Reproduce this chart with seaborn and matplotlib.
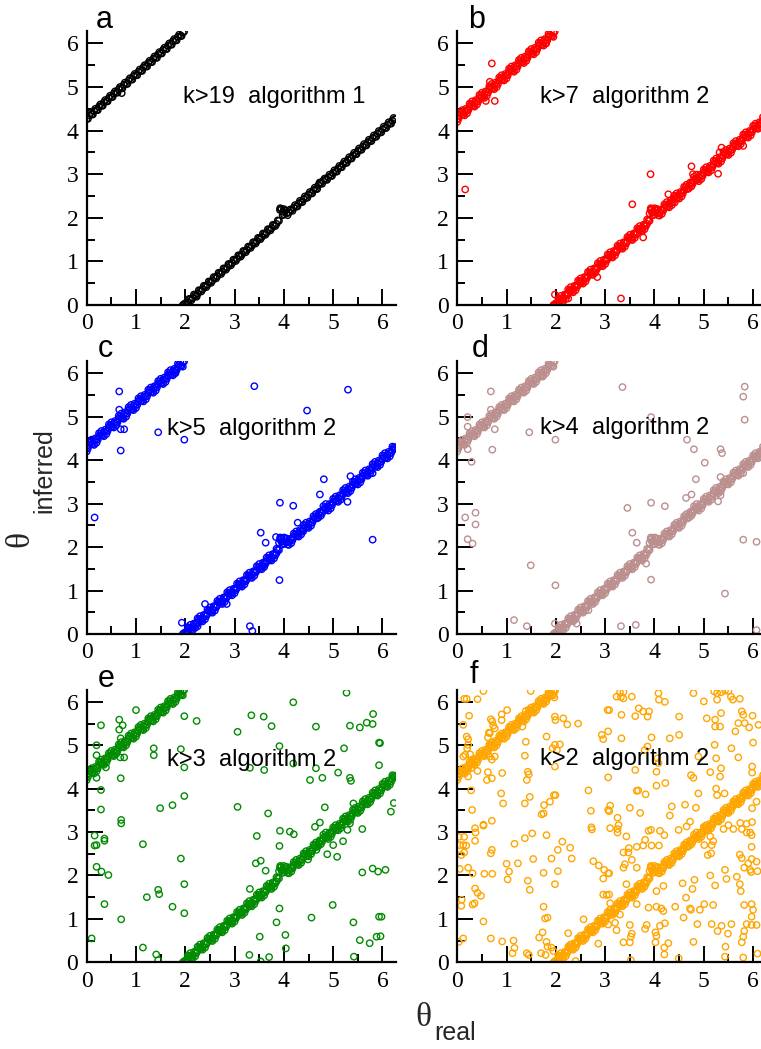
import numpy as np
import pandas as pd
import seaborn as sns
from matplotlib import pyplot as plt
from matplotlib.ticker import MultipleLocator

# ---------------- data (theta_real, theta_inferred) ----------------
# main band, upper branch (theta_real < 2)
band_up_real = [0.00, 0.05, 0.10, 0.15, 0.20, 0.25, 0.30, 0.35, 0.40, 0.45,
                0.50, 0.55, 0.60, 0.65, 0.70, 0.75, 0.80, 0.85, 0.90, 0.95,
                1.00, 1.05, 1.10, 1.15, 1.20, 1.25, 1.30, 1.35, 1.40, 1.45,
                1.50, 1.55, 1.60, 1.65, 1.70, 1.75, 1.80, 1.85, 1.90, 1.95,
                0.025, 0.075, 0.125, 0.175, 0.225, 0.275, 0.325, 0.375, 0.425, 0.475,
                0.525, 0.575, 0.625, 0.675, 0.725, 0.775, 0.825, 0.875, 0.925, 0.975,
                1.025, 1.075, 1.125, 1.175, 1.225, 1.275, 1.325, 1.375, 1.425, 1.475,
                1.525, 1.575, 1.625, 1.675, 1.725, 1.775, 1.825, 1.875, 1.925, 1.975]
band_up_inf = [4.27, 4.35, 4.37, 4.45, 4.47, 4.55, 4.57, 4.65, 4.67, 4.75,
               4.77, 4.85, 4.87, 4.95, 4.97, 5.05, 5.07, 5.15, 5.17, 5.25,
               5.27, 5.35, 5.37, 5.45, 5.47, 5.55, 5.57, 5.65, 5.67, 5.75,
               5.77, 5.85, 5.87, 5.95, 5.97, 6.05, 6.07, 6.15, 6.17, 6.25,
               4.27, 4.40, 4.37, 4.50, 4.47, 4.60, 4.57, 4.70, 4.67, 4.80,
               4.77, 4.90, 4.87, 5.00, 4.97, 5.10, 5.07, 5.20, 5.17, 5.30,
               5.27, 5.40, 5.37, 5.50, 5.47, 5.60, 5.57, 5.70, 5.67, 5.80,
               5.77, 5.90, 5.87, 6.00, 5.97, 6.10, 6.07, 6.20, 6.17, 6.27]
# main band, lower branch
band_lo_real = [1.95, 2.00, 2.05, 2.10, 2.15, 2.20, 2.25, 2.30, 2.35, 2.40,
                2.45, 2.50, 2.55, 2.60, 2.65, 2.70, 2.75, 2.80, 2.85, 2.90,
                2.95, 3.00, 3.05, 3.10, 3.15, 3.20, 3.25, 3.30, 3.35, 3.40,
                3.45, 3.50, 3.55, 3.60, 3.65, 3.70, 3.75, 3.80, 3.85, 3.90,
                3.92, 3.95, 3.98, 4.00, 4.05, 4.10, 4.15, 4.20, 4.25, 4.30,
                4.35, 4.40, 4.45, 4.50, 4.55, 4.60, 4.65, 4.70, 4.75, 4.80,
                4.85, 4.90, 4.95, 5.00, 5.05, 5.10, 5.15, 5.20, 5.25, 5.30,
                5.35, 5.40, 5.45, 5.50, 5.55, 5.60, 5.65, 5.70, 5.75, 5.80,
                5.85, 5.90, 5.95, 6.00, 6.05, 6.10, 6.15, 6.20, 6.25,
                1.975, 2.025, 2.075, 2.125, 2.175, 2.225, 2.275, 2.325, 2.375, 2.425,
                2.475, 2.525, 2.575, 2.625, 2.675, 2.725, 2.775, 2.825, 2.875, 2.925,
                2.975, 3.025, 3.075, 3.125, 3.175, 3.225, 3.275, 3.325, 3.375, 3.425,
                3.475, 3.525, 3.575, 3.625, 3.675, 3.725, 3.775, 3.825, 3.875, 3.925,
                3.975, 4.025, 4.075, 4.125, 4.175, 4.225, 4.275, 4.325, 4.375, 4.425,
                4.475, 4.525, 4.575, 4.625, 4.675, 4.725, 4.775, 4.825, 4.875, 4.925,
                4.975, 5.025, 5.075, 5.125, 5.175, 5.225, 5.275, 5.325, 5.375, 5.425,
                5.475, 5.525, 5.575, 5.625, 5.675, 5.725, 5.775, 5.825, 5.875, 5.925,
                5.975, 6.025, 6.075, 6.125, 6.175, 6.225, 6.275]
band_lo_inf = [0.00, 0.04, 0.06, 0.13, 0.16, 0.23, 0.26, 0.33, 0.36, 0.43,
               0.46, 0.53, 0.56, 0.63, 0.66, 0.73, 0.76, 0.83, 0.86, 0.93,
               0.96, 1.03, 1.06, 1.13, 1.16, 1.23, 1.26, 1.33, 1.36, 1.43,
               1.46, 1.53, 1.56, 1.63, 1.66, 1.73, 1.76, 1.83, 1.86, 1.93,
               2.18, 2.20, 2.14, 2.08, 2.10, 2.12, 2.18, 2.23, 2.26, 2.33,
               2.36, 2.43, 2.46, 2.53, 2.56, 2.63, 2.66, 2.75, 2.80, 2.85,
               2.88, 2.93, 2.96, 3.03, 3.06, 3.13, 3.16, 3.23, 3.26, 3.33,
               3.36, 3.43, 3.46, 3.53, 3.56, 3.63, 3.66, 3.73, 3.76, 3.83,
               3.86, 3.93, 3.96, 4.03, 4.06, 4.13, 4.16, 4.23, 4.26,
               0.02, 0.01, 0.14, 0.11, 0.24, 0.21, 0.34, 0.31, 0.44, 0.41,
               0.54, 0.51, 0.64, 0.61, 0.74, 0.71, 0.84, 0.81, 0.94, 0.91,
               1.04, 1.01, 1.14, 1.11, 1.24, 1.21, 1.34, 1.31, 1.44, 1.41,
               1.54, 1.51, 1.64, 1.61, 1.74, 1.71, 1.84, 1.81, 1.94, 2.22,
               2.06, 2.16, 2.06, 2.19, 2.16, 2.29, 2.26, 2.39, 2.36, 2.49,
               2.46, 2.59, 2.56, 2.69, 2.66, 2.81, 2.78, 2.90, 2.87, 2.99,
               2.96, 3.09, 3.06, 3.19, 3.16, 3.29, 3.26, 3.39, 3.36, 3.49,
               3.46, 3.59, 3.56, 3.69, 3.66, 3.79, 3.76, 3.89, 3.86, 3.99,
               3.96, 4.09, 4.06, 4.19, 4.16, 4.29, 4.26]
# wider spread around the band (panels b-f)
wide_real = [0.05, 0.15, 0.25, 0.35, 0.45, 0.55, 0.65, 0.75, 0.85, 0.95,
             1.05, 1.15, 1.25, 1.35, 1.45, 1.55, 1.65, 1.75, 1.85, 1.95,
             2.05, 2.15, 2.25, 2.35, 2.45, 2.55, 2.65, 2.75, 2.85, 2.95,
             3.05, 3.15, 3.25, 3.35, 3.45, 3.55, 3.65, 3.75, 3.85, 3.95,
             4.05, 4.15, 4.25, 4.35, 4.45, 4.55, 4.65, 4.75, 4.85, 4.95,
             5.05, 5.15, 5.25, 5.35, 5.45, 5.55, 5.65, 5.75, 5.85, 5.95,
             6.05, 6.15, 6.25,
             0.00, 0.10, 0.20, 0.30, 0.40, 0.50, 0.60, 0.70, 0.80, 0.90,
             1.00, 1.10, 1.20, 1.30, 1.40, 1.50, 1.60, 1.70, 1.80, 1.90,
             2.00, 2.10, 2.20, 2.30, 2.40, 2.50, 2.60, 2.70, 2.80, 2.90,
             3.00, 3.10, 3.20, 3.30, 3.40, 3.50, 3.60, 3.70, 3.80, 3.90,
             4.00, 4.10, 4.20, 4.30, 4.40, 4.50, 4.60, 4.70, 4.80, 4.90,
             5.00, 5.10, 5.20, 5.30, 5.40, 5.50, 5.60, 5.70, 5.80, 5.90,
             6.00, 6.10, 6.20]
wide_inf = [4.42, 4.35, 4.62, 4.55, 4.82, 4.75, 5.02, 4.95, 5.22, 5.15,
            5.42, 5.35, 5.62, 5.55, 5.82, 5.75, 6.02, 5.95, 6.22, 6.15,
            0.16, 0.09, 0.36, 0.29, 0.56, 0.49, 0.76, 0.69, 0.96, 0.89,
            1.16, 1.09, 1.36, 1.29, 1.56, 1.49, 1.76, 1.69, 1.96, 2.12,
            2.20, 2.09, 2.36, 2.29, 2.56, 2.49, 2.76, 2.72, 2.99, 2.89,
            3.16, 3.09, 3.36, 3.29, 3.56, 3.49, 3.76, 3.69, 3.96, 3.89,
            4.16, 4.09, 4.30,
            4.20, 4.47, 4.40, 4.67, 4.60, 4.87, 4.80, 5.07, 5.00, 5.27,
            5.20, 5.47, 5.40, 5.67, 5.60, 5.87, 5.80, 6.07, 6.00, 6.27,
            0.02, 0.21, 0.14, 0.41, 0.34, 0.61, 0.54, 0.81, 0.74, 1.01,
            0.94, 1.21, 1.14, 1.41, 1.34, 1.61, 1.54, 1.81, 1.74, 2.10,
            2.22, 2.05, 2.31, 2.24, 2.51, 2.44, 2.71, 2.68, 2.94, 2.84,
            3.11, 3.04, 3.31, 3.24, 3.51, 3.44, 3.71, 3.64, 3.91, 3.84,
            4.11, 4.04, 4.31]

# points off the band, per panel
out_a = [(0.71, 4.86), (2.23, 0.19), (4.0, 2.2)]
out_b = [(0.70, 5.54), (0.66, 5.12), (0.76, 4.68), (0.58, 4.68), (0.16, 2.65),
         (1.80, 6.00), (3.92, 3.00), (3.55, 2.31), (3.77, 1.55), (3.32, 0.15),
         (2.84, 0.64), (4.28, 2.54), (4.75, 3.18), (5.29, 3.01), (5.36, 3.61),
         (5.80, 3.65), (4.78, 3.00), (1.98, 0.24), (2.25, 0.15), (4.41, 2.35),
         (5.32, 3.50), (4.04, 2.20)]
out_c = [(0.66, 5.58), (0.66, 5.16), (0.69, 4.71), (0.76, 4.71), (0.69, 4.22),
         (0.16, 2.68), (1.45, 4.64), (1.98, 4.47), (1.79, 6.02), (3.40, 5.70),
         (4.47, 5.14), (5.30, 5.62), (3.92, 3.02), (4.19, 2.95), (3.53, 2.33),
         (3.63, 2.10), (3.61, 1.65), (3.58, 1.57), (3.91, 1.24), (3.31, 0.18),
         (3.36, 0.07), (5.80, 2.17), (4.81, 3.56), (4.73, 3.21), (5.29, 3.04),
         (5.35, 3.63), (5.80, 3.70), (4.28, 2.56), (4.39, 2.36), (3.84, 2.23),
         (2.84, 0.69), (2.40, 0.69), (1.93, 0.26), (2.25, 0.18)]
out_d = [(0.21, 4.99), (0.21, 4.77), (0.21, 4.25), (0.29, 3.96), (0.16, 2.68),
         (0.37, 2.79), (0.37, 2.52), (0.21, 2.18), (0.31, 2.08), (0.68, 5.58),
         (0.68, 5.16), (0.76, 4.71), (0.71, 4.24), (1.46, 4.64), (1.99, 4.47),
         (1.73, 5.92), (1.49, 1.58), (1.99, 1.12), (1.15, 0.32), (1.41, 0.18),
         (3.35, 5.68), (3.93, 4.99), (4.66, 4.47), (4.80, 4.25), (5.02, 3.94),
         (4.84, 3.56), (5.83, 5.69), (5.80, 5.46), (5.83, 4.93), (5.34, 4.25),
         (5.37, 4.16), (3.45, 2.90), (3.93, 3.02), (4.21, 2.94), (3.55, 2.33),
         (3.64, 2.10), (3.83, 1.62), (3.93, 1.25), (3.32, 0.18), (3.62, 0.21),
         (5.43, 0.93), (5.80, 2.17), (6.07, 2.12), (6.07, 0.09), (4.64, 3.13),
         (4.75, 3.21), (5.29, 3.05), (5.34, 3.61), (5.80, 3.70), (5.34, 3.19),
         (2.66, 0.55), (2.42, 0.24), (1.98, 0.24)]
out_e = [(0.10, 0.55), (0.20, 2.70), (0.16, 2.92), (0.16, 2.69), (0.20, 2.20),
         (0.30, 2.09), (0.44, 2.01), (0.36, 2.85), (0.36, 2.80), (0.36, 1.34),
         (0.29, 3.52), (0.29, 3.97), (0.20, 4.25), (0.39, 4.49), (0.20, 5.00),
         (0.20, 4.77), (0.29, 5.46), (0.66, 5.36), (0.66, 5.59), (0.73, 5.46),
         (0.69, 5.16), (0.68, 4.72), (0.76, 4.72), (0.69, 4.24), (0.70, 3.28),
         (0.70, 3.20), (0.70, 0.99), (1.00, 5.81), (1.14, 2.72), (1.14, 0.34),
         (1.22, 1.50), (1.36, 4.93), (1.36, 4.77), (1.49, 3.55), (1.45, 1.67),
         (1.47, 1.57), (1.41, 0.18), (1.45, 0.05), (1.74, 3.62), (1.74, 1.28),
         (1.91, 4.91), (1.98, 5.67), (2.23, 5.56), (1.98, 4.49), (1.98, 3.83),
         (1.91, 2.39), (1.98, 1.80), (1.98, 1.13),
         (3.06, 5.31), (3.06, 3.58), (3.34, 5.69), (3.31, 4.48), (3.31, 1.69),
         (3.30, 0.17), (3.45, 2.91), (3.43, 2.28), (3.53, 2.34), (3.63, 2.11),
         (3.60, 4.43), (3.59, 5.66), (3.75, 5.44), (3.68, 3.43), (3.51, 0.59),
         (3.53, 0.02), (3.70, 0.12), (3.91, 4.98), (3.92, 3.03), (3.91, 2.68),
         (3.91, 1.24), (3.85, 0.92), (4.03, 0.63), (4.04, 0.32), (4.12, 3.01),
         (4.20, 2.95), (4.19, 5.99), (4.19, 4.58), (4.53, 4.20), (4.65, 4.47),
         (4.65, 5.43), (4.56, 1.03), (4.49, 2.37), (4.66, 2.59), (4.63, 3.12),
         (4.73, 3.22), (4.78, 4.25), (4.83, 3.57), (4.88, 2.49), (5.00, 2.70),
         (5.08, 2.43), (5.22, 4.93), (5.10, 4.37), (4.99, 1.32), (5.20, 2.79),
         (5.29, 3.05), (5.27, 6.21), (5.34, 5.45), (5.34, 4.25), (5.36, 4.18),
         (5.41, 0.92), (5.42, 0.13), (5.54, 0.51), (5.54, 5.41), (5.68, 5.52),
         (5.80, 5.49), (5.81, 5.72), (5.59, 3.07), (5.59, 2.07), (5.74, 0.44),
         (5.80, 2.16), (5.88, 0.59), (5.91, 2.09), (5.93, 4.54), (5.93, 5.06),
         (5.93, 1.05), (5.41, 3.66), (5.34, 3.20), (5.95, 5.05), (6.17, 3.47),
         (6.23, 3.67), (6.06, 2.13), (5.98, 1.05), (5.96, 0.60)]
out_f = [
    # upper left
    (0.53, 6.25), (0.19, 6.07), (0.14, 6.07), (0.41, 6.06), (1.49, 6.25),
    (1.97, 6.10), (1.98, 6.25), (0.24, 5.68), (0.12, 5.47), (0.68, 5.60),
    (0.71, 5.55), (0.73, 5.45), (0.76, 5.39), (0.66, 5.28), (0.90, 5.71),
    (1.01, 5.81), (0.90, 5.58), (1.39, 5.79), (1.98, 5.66), (1.99, 5.58),
    (2.15, 5.62), (2.23, 5.48), (2.45, 5.50), (0.19, 5.20), (0.22, 5.14),
    (0.22, 5.01), (0.20, 4.93), (0.16, 4.78), (0.26, 4.79), (0.12, 4.74),
    (0.62, 5.18), (0.64, 5.29), (0.68, 5.01), (0.66, 4.74), (0.76, 4.74),
    (0.70, 4.67), (1.39, 5.08), (1.37, 4.76), (1.32, 5.43), (1.81, 5.20),
    (1.93, 4.93), (1.98, 5.01), (1.98, 4.51), (2.08, 5.02), (2.02, 4.89),
    (0.41, 4.41), (0.28, 4.47), (0.62, 4.38), (0.70, 4.24), (0.60, 4.20),
    (0.91, 4.36), (0.22, 4.28), (0.28, 3.96), (0.89, 3.89), (0.93, 3.66),
    (1.37, 3.66), (1.47, 3.81), (1.43, 4.39), (1.45, 4.33), (1.41, 4.20),
    (1.76, 3.62), (1.88, 3.70), (1.96, 3.85), (1.99, 3.85), (1.75, 3.43),
    (1.71, 3.41), (2.66, 3.96), (2.71, 3.49), (2.72, 3.11), (3.06, 3.51),
    (2.93, 5.24), (2.96, 5.14), (3.08, 5.81), (3.10, 3.09), (0.30, 3.51),
    (0.70, 3.26), (0.53, 3.17), (0.36, 3.09),
    # upper right
    (3.30, 6.22), (3.37, 6.23), (3.23, 6.12), (3.32, 6.11), (3.37, 6.08),
    (3.54, 6.12), (4.08, 6.20), (4.09, 6.05), (4.21, 6.00), (4.79, 6.20),
    (5.00, 6.01), (5.21, 6.24), (5.27, 6.20), (5.35, 6.22), (5.43, 6.26),
    (5.50, 6.25), (5.27, 6.05), (5.55, 6.12), (5.59, 6.05), (5.73, 6.07),
    (3.05, 5.81), (3.33, 5.70), (3.68, 5.85), (3.77, 5.78), (3.89, 5.78),
    (3.61, 5.67), (3.86, 5.66), (4.50, 5.66), (5.06, 5.62), (5.23, 5.59),
    (5.35, 5.74), (5.77, 5.78), (5.80, 5.70), (5.99, 5.68), (5.70, 5.51),
    (5.83, 5.51), (5.92, 5.41), (6.11, 5.47), (5.23, 5.43), (5.33, 5.43),
    (5.64, 5.32), (3.06, 5.32), (3.33, 5.16), (3.94, 5.18), (4.31, 5.16),
    (4.50, 5.24), (3.80, 4.89), (3.86, 4.97), (4.08, 4.59), (4.06, 4.70),
    (4.04, 4.39), (3.61, 4.43), (3.06, 4.26), (4.89, 4.74), (5.25, 4.70),
    (5.22, 5.01), (5.56, 4.93), (6.00, 5.06), (5.13, 4.38), (5.35, 4.47),
    (5.33, 4.28), (5.70, 4.72), (5.98, 4.51), (5.98, 4.37), (4.74, 4.31),
    (4.79, 4.25), (4.22, 4.13), (4.04, 4.07), (3.64, 3.95), (3.67, 3.96),
    (3.82, 3.87), (4.89, 3.89), (5.25, 4.00), (5.42, 3.89), (5.27, 3.85),
    (3.71, 3.44), (3.10, 3.61), (3.08, 3.48), (3.50, 3.56), (4.31, 3.38),
    (4.35, 3.59), (4.62, 3.63), (4.84, 3.56), (3.25, 3.33), (3.27, 3.16),
    (4.72, 3.24), (5.00, 3.12), (5.50, 3.16), (5.74, 3.21), (5.87, 3.19),
    (5.98, 3.23), (6.07, 3.70), (5.98, 3.55),
    # lower left
    (0.03, 2.89), (0.14, 2.89), (0.37, 2.99), (0.53, 3.15), (0.36, 2.80),
    (0.05, 2.70), (0.12, 2.70), (0.18, 2.69), (0.14, 2.53), (0.08, 2.47),
    (0.05, 2.15), (0.22, 2.18), (0.31, 2.05), (0.70, 2.59), (0.68, 2.51),
    (1.16, 2.73), (1.37, 2.86), (1.52, 2.97), (1.81, 2.93), (2.13, 2.78),
    (2.04, 2.59), (2.29, 2.64), (2.32, 2.39), (1.91, 2.39), (1.54, 2.38),
    (1.23, 2.28), (1.00, 2.27), (1.05, 2.09), (1.02, 1.91), (0.55, 2.04),
    (0.71, 2.04), (1.43, 1.88), (1.47, 1.67), (1.75, 2.06), (2.04, 2.10),
    (1.98, 1.80), (2.73, 3.06), (2.76, 2.33), (2.87, 2.23), (2.96, 1.93),
    (3.06, 2.05), (2.96, 1.56), (3.08, 1.56), (0.36, 1.70), (0.41, 1.60),
    (0.48, 1.53), (0.35, 1.36), (0.31, 1.33), (0.09, 1.44), (0.08, 1.30),
    (0.53, 0.94), (0.12, 0.55), (0.03, 0.47), (0.68, 0.55), (0.91, 0.48),
    (1.14, 0.50), (1.16, 0.33), (1.12, 0.21), (1.41, 0.21), (1.45, 0.17),
    (1.75, 1.28), (1.78, 1.01), (1.83, 1.03), (1.73, 0.69), (1.66, 0.57),
    (1.81, 0.47), (1.83, 0.36), (1.70, 0.21), (1.79, 0.17), (1.91, 0.34),
    (1.95, 0.26), (2.25, 0.67), (2.29, 0.40), (2.56, 0.99), (2.69, 0.73),
    (2.86, 0.43), (2.40, 0.03), (2.98, 2.13),
    # lower right
    (3.25, 3.07), (3.25, 2.99), (3.43, 2.90), (3.88, 3.03), (3.93, 3.05),
    (4.11, 3.03), (4.20, 2.93), (4.49, 3.05), (4.65, 3.13), (3.81, 2.82),
    (3.94, 2.69), (4.09, 2.69), (3.48, 2.63), (3.64, 2.66), (3.77, 2.69),
    (3.47, 2.53), (3.37, 2.53), (3.54, 2.36), (3.40, 2.26), (3.37, 2.18),
    (3.64, 2.18), (3.08, 2.05), (5.13, 2.90), (5.01, 2.70), (5.16, 2.70),
    (5.19, 2.79), (5.08, 2.47), (5.15, 2.51), (5.40, 3.07), (5.60, 3.07),
    (5.77, 3.07), (5.87, 2.99), (5.94, 2.99), (5.97, 2.93), (5.97, 2.66),
    (5.73, 2.48), (5.77, 2.40), (5.97, 2.38), (6.07, 2.32), (5.82, 2.18),
    (5.90, 2.28), (5.94, 2.13), (5.96, 2.08), (6.09, 2.10), (5.43, 2.13),
    (5.46, 1.92), (5.13, 2.00), (5.23, 1.77), (5.67, 1.97), (5.73, 1.80),
    (5.75, 1.64), (4.81, 1.90), (4.77, 1.69), (4.64, 1.49), (4.42, 1.28),
    (4.59, 1.03), (4.74, 1.21), (4.72, 1.24), (4.92, 1.21), (5.01, 1.34),
    (5.19, 1.32), (4.18, 1.76), (4.04, 1.64), (3.88, 1.26), (4.04, 1.28),
    (4.14, 1.24), (4.18, 1.18), (3.64, 1.34), (3.30, 1.10), (3.20, 0.91),
    (3.50, 0.86), (3.54, 0.66), (3.23, 0.74), (3.06, 0.87), (3.84, 0.86),
    (3.81, 0.77), (4.11, 0.84), (4.21, 0.90), (4.02, 0.69), (4.04, 0.61),
    (4.02, 0.46), (3.50, 0.46), (3.37, 0.46), (3.52, 0.59), (4.28, 0.44),
    (4.20, 0.34), (4.20, 0.18), (4.79, 0.47), (4.49, 0.09), (3.52, 0.05),
    (4.57, 1.82), (4.87, 0.88), (5.16, 0.88), (5.28, 0.72), (5.36, 0.84),
    (5.56, 0.88), (5.49, 0.66), (5.87, 0.88), (5.82, 0.72), (5.80, 0.59),
    (5.77, 0.46), (5.97, 0.86), (6.07, 0.86), (5.44, 0.36), (5.43, 0.13),
    (5.80, 0.11), (6.09, 0.20), (5.97, 1.05), (5.82, 1.32), (5.97, 1.34),
    (6.00, 1.21), (3.03, 1.55), (3.10, 1.36), (3.43, 1.80)]

letters = ['a', 'b', 'c', 'd', 'e', 'f']
labels = ['k>19  algorithm 1', 'k>7  algorithm 2', 'k>5  algorithm 2',
          'k>4  algorithm 2', 'k>3  algorithm 2', 'k>2  algorithm 2']
colors = ['black', '#ff0000', '#0000ff', '#bc8f8f', '#008b00', '#ffa500']
outliers = [out_a, out_b, out_c, out_d, out_e, out_f]
use_wide = [False, True, True, True, True, True]

# ---------------- figure ----------------
sns.set_theme(style='ticks')
plt.rcParams['font.family'] = ['Liberation Sans', 'DejaVu Sans']

W, H = 761.0, 1049.0
fig = plt.figure(figsize=(W / 100, H / 100), dpi=100)

def fx(px):
    return px / W

def fy(py):
    return 1 - py / H

col_left = [86.7, 457.3]
row_bottom = [305.0, 634.0, 962.3]
row_height = [273.8, 273.0, 272.6]
ax_w = 309.6

# text anchors (pixels): panel letter, annotation
letter_pos = [(96, 28), (468, 28), (98, 357), (472, 357), (98, 687), (470, 683)]
label_pos = [(183, 103), (540, 103), (167, 435), (540, 434), (167, 766), (540, 765)]

for i in range(6):
    r, c = divmod(i, 2)
    ax = fig.add_axes([fx(col_left[c]), fy(row_bottom[r]),
                       ax_w / W, row_height[r] / H])

    xs = list(band_up_real) + list(band_lo_real)
    ys = list(band_up_inf) + list(band_lo_inf)
    if use_wide[i]:
        xs += wide_real
        ys += wide_inf
    xs += [p[0] for p in outliers[i]]
    ys += [p[1] for p in outliers[i]]
    df = pd.DataFrame({'real': xs, 'inferred': ys})

    sns.scatterplot(data=df, x='real', y='inferred', ax=ax, marker='o', s=21,
                    facecolor='none', edgecolor=colors[i], linewidth=1.0,
                    legend=False)

    ax.set_xlim(0, 6.28)
    ax.set_ylim(0, 6.28)
    ax.set_xlabel('')
    ax.set_ylabel('')
    ax.set_facecolor('none')
    for s in ['top', 'right']:
        ax.spines[s].set_visible(False)
    for s in ['left', 'bottom']:
        ax.spines[s].set_linewidth(1.6)
        ax.spines[s].set_color('black')
    ax.set_xticks(range(7))
    ax.set_yticks(range(7))
    ax.xaxis.set_minor_locator(MultipleLocator(0.5))
    ax.yaxis.set_minor_locator(MultipleLocator(0.5))
    ax.tick_params(which='major', direction='in', length=11.5, width=1.4,
                   color='black', pad=6)
    ax.tick_params(which='minor', direction='in', length=6, width=1.4,
                   color='black')
    for t in ax.get_xticklabels() + ax.get_yticklabels():
        t.set_fontfamily('Liberation Serif')
        t.set_fontsize(17)
        t.set_color('black')

    fig.text(fx(letter_pos[i][0]), fy(letter_pos[i][1]), letters[i],
             fontsize=22, ha='left', va='baseline', color='black')
    fig.text(fx(label_pos[i][0]), fy(label_pos[i][1]), labels[i],
             fontsize=17, ha='left', va='baseline', color='black')

# axis titles
fig.text(fx(415), fy(1025.5), '\u03b8', family='Liberation Serif', fontsize=24,
         ha='left', va='baseline')
fig.text(fx(434), fy(1040), 'real', fontsize=18, ha='left', va='baseline')
fig.text(fx(28), fy(547), '\u03b8', family='Liberation Serif', fontsize=24,
         rotation=90, rotation_mode='anchor', ha='left', va='baseline')
fig.text(fx(51.7), fy(513), 'inferred', fontsize=18,
         rotation=90, rotation_mode='anchor', ha='left', va='baseline')

fig.savefig('out.png', dpi=100)
